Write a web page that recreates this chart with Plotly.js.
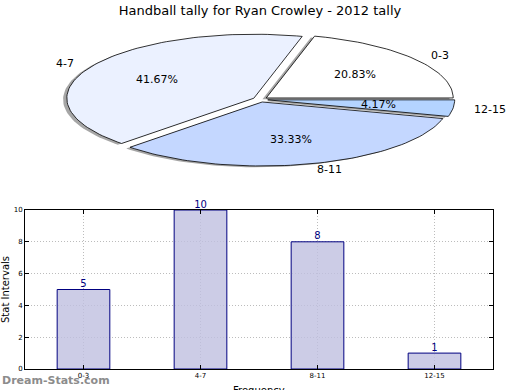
<!DOCTYPE html>
<html>
<head>
<meta charset="utf-8">
<script src="https://cdn.plot.ly/plotly-3.0.1.min.js"></script>
<style>html,body{margin:0;padding:0;background:#fff;}#chart{width:520px;height:390px;}</style>
</head>
<body>
<div id="chart"></div>
<script>
// ---- data ----
var categories = ["0-3", "4-7", "8-11", "12-15"];
var tallies = [5, 10, 8, 1];
var sliceColors = ["#ffffff", "#ebf1ff", "#c4d7ff", "#b4d4ff"];
var chartTitle = "Handball tally for Ryan Crowley - 2012 tally";
var yTitle = "Stat Intervals";
var xTitle = "Frequency";
var watermark = "Dream-Stats.com";
var yTicks = [0, 2, 4, 6, 8, 10];

// ---- pie geometry (elliptical, matplotlib-like) ----
var explode = 0.04, labelDist = 1.1, pctDist = 0.6;
var shadowDx = -0.02, shadowDy = -0.02;
var total = tallies.reduce(function(a, b){return a + b;}, 0);
var traces = [];
var shadowTraces = [];
var wedgeTraces = [];
var annotations = [];
var start = 0;
tallies.forEach(function(v, i){
  var frac = v / total;
  var t1 = start * 2 * Math.PI, t2 = (start + frac) * 2 * Math.PI;
  var mid = (t1 + t2) / 2;
  var cx = explode * Math.cos(mid), cy = explode * Math.sin(mid);
  var xs = [cx], ys = [cy];
  var n = Math.max(8, Math.ceil(frac * 200));
  for (var k = 0; k <= n; k++) {
    var t = t1 + (t2 - t1) * k / n;
    xs.push(cx + Math.cos(t)); ys.push(cy + Math.sin(t));
  }
  xs.push(cx); ys.push(cy);
  shadowTraces.push({
    type: "scatter", mode: "lines", fill: "toself",
    x: xs.map(function(x){return x + shadowDx;}),
    y: ys.map(function(y){return y + shadowDy;}),
    fillcolor: "rgba(77,77,77,0.5)", line: {width: 0},
    xaxis: "x", yaxis: "y", hoverinfo: "skip", showlegend: false
  });
  wedgeTraces.push({
    type: "scatter", mode: "lines", fill: "toself", x: xs, y: ys,
    fillcolor: sliceColors[i], line: {color: "#000000", width: 0.8},
    xaxis: "x", yaxis: "y", hoverinfo: "skip", showlegend: false
  });
  var lx = cx + labelDist * Math.cos(mid), ly = cy + labelDist * Math.sin(mid);
  annotations.push({
    xref: "x", yref: "y", x: lx, y: ly, text: categories[i], showarrow: false,
    xanchor: lx > 0 ? "left" : "right", yanchor: "middle",
    font: {size: 11, color: "#000"}
  });
  annotations.push({
    xref: "x", yref: "y", x: cx + pctDist * Math.cos(mid), y: cy + pctDist * Math.sin(mid),
    text: (frac * 100).toFixed(2) + "%", showarrow: false,
    xanchor: "center", yanchor: "middle", font: {size: 11, color: "#000"}
  });
  start += frac;
});
traces = shadowTraces.concat(wedgeTraces);

// ---- bar chart ----
traces.push({
  type: "bar", x: categories, y: tallies, width: 0.45,
  marker: {color: "rgba(191,191,224,0.8)", line: {color: "#000080", width: 1}},
  xaxis: "x2", yaxis: "y2", hoverinfo: "skip", showlegend: false
});
traces.push({
  type: "scatter", mode: "text", x: categories, y: tallies,
  text: tallies.map(String), textposition: "top center",
  textfont: {size: 10, color: "#000080"}, cliponaxis: false,
  xaxis: "x2", yaxis: "y2", hoverinfo: "skip", showlegend: false
});

annotations.push({
  xref: "paper", yref: "paper", x: 0, y: 1 - 380/390, xanchor: "left", yanchor: "middle",
  text: "<b>" + watermark + "</b>", showarrow: false,
  font: {size: 11, color: "#8c8c8c"}
});
annotations.push({
  xref: "paper", yref: "paper", x: 259/520, y: 1 - 383/390, xanchor: "center", yanchor: "top",
  text: xTitle, showarrow: false, font: {size: 10, color: "#000"}
});

var layout = {
  width: 520, height: 390,
  margin: {l: 0, r: 0, t: 0, b: 0},
  paper_bgcolor: "#ffffff", plot_bgcolor: "rgba(0,0,0,0)",
  font: {family: "DejaVu Sans", color: "#000"},
  showlegend: false,
  title: {text: chartTitle, x: 0.5, xanchor: "center", y: 1 - 10/390, yanchor: "middle",
          font: {size: 13, color: "#000"}},
  xaxis: {domain: [0, 1], range: [-1.392, 1.389], visible: false, fixedrange: true},
  yaxis: {domain: [1 - 200/390, 1], range: [-1.570, 1.555], visible: false, fixedrange: true},
  xaxis2: {
    domain: [25/520, 493/520], range: [-0.5, 3.5], anchor: "y2",
    type: "category",
    showline: true, linecolor: "#000", linewidth: 1, mirror: "allticks",
    ticks: "inside", ticklen: 4, tickcolor: "#000",
    showgrid: true, gridcolor: "#bcbcbc", griddash: "1px,2px", gridwidth: 1,
    tickfont: {size: 7, color: "#000"}, zeroline: false
  },
  yaxis2: {
    domain: [1 - 369/390, 1 - 210/390], range: [0, 10], anchor: "x2",
    tickvals: yTicks,
    showline: true, linecolor: "#000", linewidth: 1, mirror: "allticks",
    ticks: "inside", ticklen: 4, tickcolor: "#000",
    showgrid: true, gridcolor: "#bcbcbc", griddash: "1px,2px", gridwidth: 1,
    tickfont: {size: 7, color: "#000"}, zeroline: false,
    title: {text: yTitle, font: {size: 10}, standoff: 6}
  },
  annotations: annotations
};

Plotly.newPlot("chart", traces, layout, {displayModeBar: false, staticPlot: true});
</script>
</body>
</html>
